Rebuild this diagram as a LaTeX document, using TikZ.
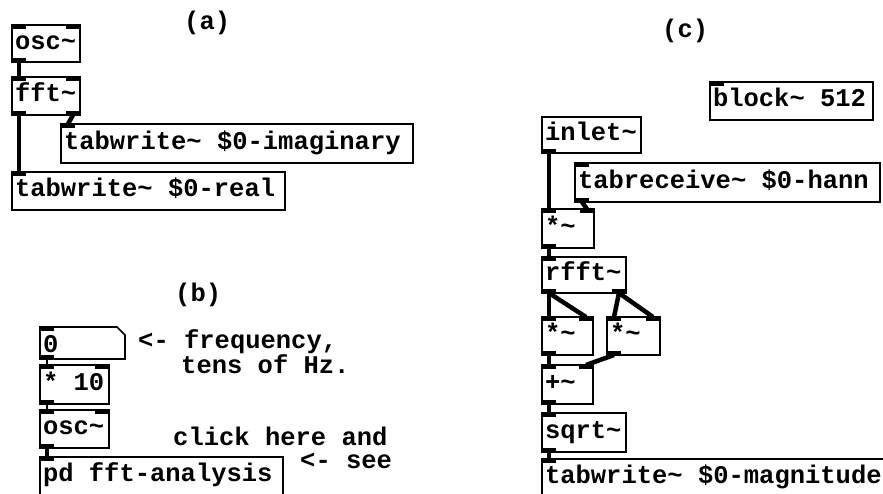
\documentclass[tikz,border=0pt]{standalone}
\usepackage{fontspec}
\setmonofont{Liberation Mono}
\usepackage{tikz}
\newcommand{\pdtilde}{\textasciitilde}

\begin{document}
\begin{tikzpicture}[x=1pt,y=-1pt,line cap=butt,
  font=\ttfamily\bfseries\fontsize{25.5}{30}\selectfont,
  pdbox/.style={draw,line width=1.6pt,anchor=north west,outer sep=0pt,inner xsep=3pt,inner ysep=0pt,
    align=flush left,text height=17pt,text depth=6pt,minimum height=38pt},
  pdtext/.style={anchor=base west,inner sep=0pt},
  sig/.style={line width=4.5pt},
  ctl/.style={line width=2pt}]
\useasboundingbox (0,0) rectangle (883,493);
\clip (0,0) rectangle (883,493);
% (a)
\node[pdtext] (labA) at (184,29) {(a)};
\node[pdbox,text width=62pt,minimum height=37pt] (oscA) at (12,25) {osc\pdtilde};
\node[pdbox,text width=62pt] (fftA) at (12,77) {fft\pdtilde};
\node[pdbox,text width=346pt,minimum height=39pt] (twImag) at (61,124) {tabwrite\pdtilde{} \$0-imaginary};
\node[pdbox,text width=267pt] (twReal) at (12,172) {tabwrite\pdtilde{} \$0-real};
% (b)
\node[pdtext] (labB) at (175,301) {(b)};
\node[pdbox,draw=none,text width=79pt,minimum height=32pt,text height=20pt,text depth=2pt] (num) at (40,327) {0};
\draw[line width=1.6pt] (num.north west) -- ([xshift=-8pt]num.north east) -- ([yshift=-8pt]num.north east)
  -- (num.south east) -- (num.south west) -- cycle;
\node[pdbox,text width=63pt,minimum height=39pt] (mulB) at (40,365) {* 10};
\node[pdbox,text width=63pt] (oscB) at (40,410) {osc\pdtilde};
\node[pdbox,text width=237pt] (pdFFT) at (40,457) {pd fft-analysis};
\node[pdtext] (freqTxt) at (138,348) {<- frequency,};
\node[pdtext] (tensTxt) at (181,373) {tens of Hz.};
\node[pdtext] (clickTxt) at (173,445) {click here and};
\node[pdtext] (seeTxt) at (300,468) {<- see};
% (c)
\node[pdtext] (labC) at (662,37) {(c)};
\node[pdbox,text width=157pt] (block) at (710,82) {block\pdtilde{} 512};
\node[pdbox,text width=93pt,minimum height=36pt] (inlet) at (542,117) {inlet\pdtilde};
\node[pdbox,text width=299pt,minimum height=39pt] (tabrec) at (575,163) {tabreceive\pdtilde{} \$0-hann};
\node[pdbox,text width=46pt,minimum height=39pt] (mulC) at (542,209) {*\pdtilde};
\node[pdbox,text width=78pt,minimum height=36pt] (rfft) at (542,257) {rfft\pdtilde};
\node[pdbox,text width=45pt] (mulL) at (542,317) {*\pdtilde};
\node[pdbox,text width=47pt] (mulR) at (607,317) {*\pdtilde};
\node[pdbox,text width=45pt,minimum height=39pt] (plus) at (542,365) {+\pdtilde};
\node[pdbox,text width=78pt,minimum height=39pt] (sqrtC) at (542,413) {sqrt\pdtilde};
\node[pdbox,text width=354pt] (twMag) at (542,459) {tabwrite\pdtilde{} \$0-magnitude};
% inlets and outlets
\foreach \n in {oscA,fftA,twImag,twReal,num,mulB,oscB,pdFFT,block,tabrec,mulC,rfft,mulL,mulR,plus,sqrtC,twMag}
  \fill (\n.north west) rectangle ++(14,4);
\foreach \n in {oscA,fftA,mulB,oscB,mulC,mulL,mulR,plus}
  \fill (\n.north east) rectangle ++(-14,4);
\foreach \n in {oscA,fftA,num,mulB,oscB,inlet,tabrec,mulC,rfft,mulL,mulR,plus,sqrtC}
  \fill (\n.south west) rectangle ++(14,-4);
\foreach \n in {fftA,rfft}
  \fill (\n.south east) rectangle ++(-14,-4);
% connections
\draw[sig] ([xshift=7pt]oscA.south west) -- ([xshift=7pt]fftA.north west);
\draw[sig] ([xshift=7pt]fftA.south west) -- ([xshift=7pt]twReal.north west);
\draw[sig] ([xshift=-7pt]fftA.south east) -- ([xshift=7pt]twImag.north west);
\draw[ctl] ([xshift=7pt]num.south west) -- ([xshift=7pt]mulB.north west);
\draw[ctl] ([xshift=7pt]mulB.south west) -- ([xshift=7pt]oscB.north west);
\draw[sig] ([xshift=7pt]oscB.south west) -- ([xshift=7pt]pdFFT.north west);
\draw[sig] ([xshift=7pt]inlet.south west) -- ([xshift=7pt]mulC.north west);
\draw[sig] ([xshift=7pt]tabrec.south west) -- ([xshift=-7pt]mulC.north east);
\draw[sig] ([xshift=7pt]mulC.south west) -- ([xshift=7pt]rfft.north west);
\draw[sig] ([xshift=7pt]rfft.south west) -- ([xshift=7pt]mulL.north west);
\draw[sig] ([xshift=7pt]rfft.south west) -- ([xshift=-7pt]mulL.north east);
\draw[sig] ([xshift=-7pt]rfft.south east) -- ([xshift=7pt]mulR.north west);
\draw[sig] ([xshift=-7pt]rfft.south east) -- ([xshift=-7pt]mulR.north east);
\draw[sig] ([xshift=7pt]mulL.south west) -- ([xshift=7pt]plus.north west);
\draw[sig] ([xshift=7pt]mulR.south west) -- ([xshift=-7pt]plus.north east);
\draw[sig] ([xshift=7pt]plus.south west) -- ([xshift=7pt]sqrtC.north west);
\draw[sig] ([xshift=7pt]sqrtC.south west) -- ([xshift=7pt]twMag.north west);
\end{tikzpicture}
\end{document}
